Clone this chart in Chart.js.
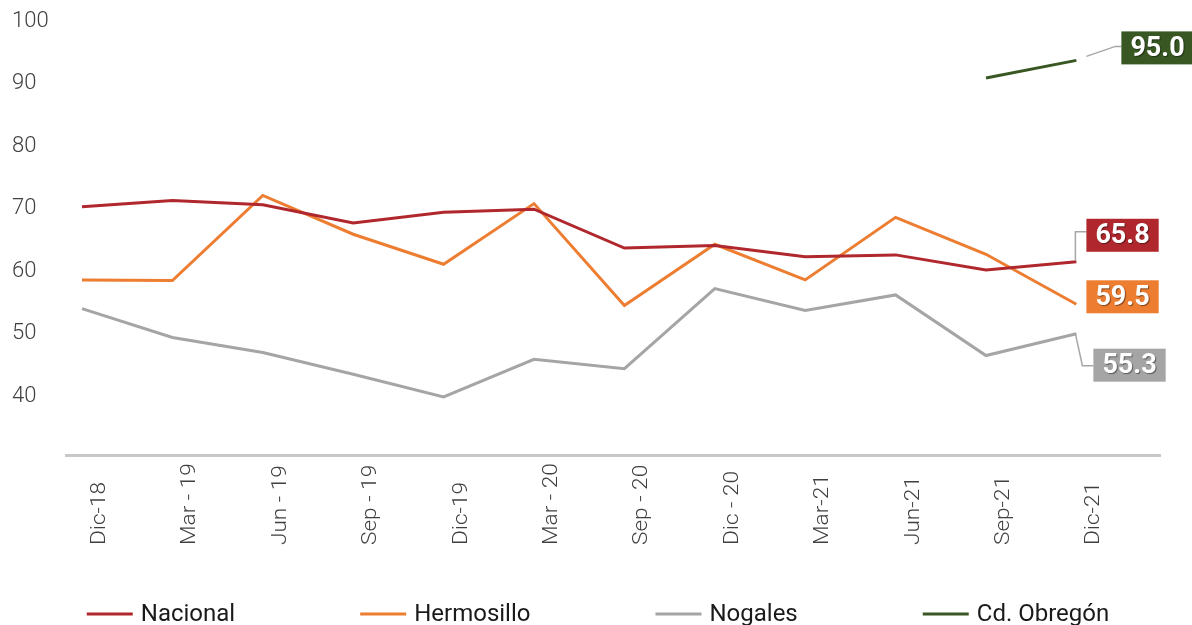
<!DOCTYPE html>
<html>
<head>
<meta charset="utf-8">
<script src="https://cdn.jsdelivr.net/npm/chart.js@4.4.1/dist/chart.umd.min.js"></script>
<style>
    html, body { margin: 0; padding: 0; background: #ffffff; }
    #wrap { width: 1192px; height: 625px; position: relative; }
</style>
</head>
<body>
<div id="wrap"><canvas id="chart"></canvas></div>
<script>
const categories = ['Dic-18', 'Mar - 19', 'Jun - 19', 'Sep - 19', 'Dic-19', 'Mar - 20',
    'Sep - 20', 'Dic - 20', 'Mar-21', 'Jun-21', 'Sep-21', 'Dic-21'];
const nacional = [70.3, 71.3, 70.6, 67.7, 69.4, 69.9, 63.7, 64.1, 62.3, 62.6, 60.2, 61.5];
const hermosillo = [58.6, 58.5, 72.1, 65.9, 61.1, 70.8, 54.5, 64.3, 58.6, 68.6, 62.7, 54.7];
const nogales = [54.0, 49.4, 47.0, 43.5, 39.9, 45.9, 44.4, 57.2, 53.7, 56.2, 46.5, 50.0];
const obregon = [null, null, null, null, null, null, null, null, null, null, 90.9, 93.7];
const seriesNames = ['Nacional', 'Hermosillo', 'Nogales', 'Cd. Obregón'];
const lastLabels = ['65.8', '59.5', '55.3', '95.0'];
const yTicks = [40, 50, 60, 70, 80, 90, 100];

const colors = ['#b0282d', '#ed7d31', '#a5a5a5', '#385723'];
const leaderColor = '#a6a6a6';

function toPoints(values) {
    return values.map((v, i) => ({x: i, y: v}));
}

// label boxes: offset of box from the last point, and the leader line path
const labelLayout = [
    {dx: 10, dy: -43, leader: [[-1, -1], [-1, -30], [10, -30]]},
    {dx: 10, dy: -24, leader: null},
    {dx: 17, dy: 15, leader: [[-1, 0], [6, 32], [17, 32]]},
    {dx: 45, dy: -29, leader: [[10, -4], [39, -14], [45, -14]]},
];

const xLabelsPlugin = {
    id: 'xLabels',
    afterDraw(chart) {
        const ctx = chart.ctx;
        const xs = chart.scales.x;
        ctx.save();
        ctx.fillStyle = '#404040';
        ctx.font = '300 20px Roboto';
        ctx.textAlign = 'left';
        ctx.textBaseline = 'middle';
        categories.forEach((c, i) => {
            const x = xs.getPixelForValue(i) + 18;
            ctx.save();
            ctx.translate(x, 545);
            ctx.rotate(-Math.PI / 2);
            ctx.scale(1.13, 1);
            ctx.fillText(c, 0, 0);
            ctx.restore();
        });
        ctx.restore();
    }
};

const endLabelsPlugin = {
    id: 'endLabels',
    afterDatasetsDraw(chart) {
        const ctx = chart.ctx;
        ctx.save();
        ctx.font = 'bold 27px Roboto';
        chart.data.datasets.forEach((ds, i) => {
            const meta = chart.getDatasetMeta(i);
            const pt = meta.data[meta.data.length - 1];
            const lay = labelLayout[i];
            if (lay.leader) {
                ctx.strokeStyle = leaderColor;
                ctx.lineWidth = 1.5;
                ctx.beginPath();
                lay.leader.forEach((p, k) => {
                    if (k === 0) ctx.moveTo(pt.x + p[0], pt.y + p[1]);
                    else ctx.lineTo(pt.x + p[0], pt.y + p[1]);
                });
                ctx.stroke();
            }
            const text = lastLabels[i];
            const w = ctx.measureText(text).width + 18;
            const h = 33;
            const bx = pt.x + lay.dx;
            const by = pt.y + lay.dy;
            ctx.fillStyle = colors[i];
            ctx.fillRect(bx, by, w, h);
            ctx.save();
            ctx.shadowColor = 'rgba(0,0,0,0.45)';
            ctx.shadowOffsetX = 1;
            ctx.shadowOffsetY = 1;
            ctx.shadowBlur = 1;
            ctx.fillStyle = '#ffffff';
            ctx.textAlign = 'center';
            ctx.textBaseline = 'middle';
            ctx.fillText(text, bx + w / 2, by + h / 2 + 1);
            ctx.restore();
        });
        ctx.restore();
    }
};

const legendPlugin = {
    id: 'bottomLegend',
    afterDraw(chart) {
        const ctx = chart.ctx;
        const lineLen = 46, gap = 8, spacing = 125;
        ctx.save();
        ctx.font = '24px Roboto';
        const widths = seriesNames.map(n => lineLen + gap + ctx.measureText(n).width);
        const total = widths.reduce((a, b) => a + b, 0) + spacing * (widths.length - 1);
        let x = chart.width / 2 - total / 2 + 2;
        seriesNames.forEach((n, i) => {
            ctx.strokeStyle = colors[i];
            ctx.lineWidth = 3;
            ctx.beginPath();
            ctx.moveTo(x, 614);
            ctx.lineTo(x + lineLen, 614);
            ctx.stroke();
            ctx.fillStyle = '#1a1a1a';
            ctx.textBaseline = 'alphabetic';
            ctx.fillText(n, x + lineLen + gap, 621);
            x += widths[i] + spacing;
        });
        ctx.restore();
    }
};

const allSeries = [nacional, hermosillo, nogales, obregon];

new Chart(document.getElementById('chart'), {
    type: 'line',
    data: {
        datasets: allSeries.map((s, i) => ({
            label: seriesNames[i],
            data: toPoints(s),
            borderColor: colors[i],
            backgroundColor: colors[i],
            borderWidth: 3,
            pointRadius: 0,
            tension: 0,
            fill: false,
        }))
    },
    options: {
        responsive: true,
        maintainAspectRatio: false,
        animation: false,
        layout: {padding: {top: 21, left: 12, right: 32, bottom: 0}},
        plugins: {
            legend: {display: false},
            tooltip: {enabled: false},
        },
        scales: {
            x: {
                type: 'linear',
                min: -0.177,
                max: 11.925,
                grid: {display: false},
                border: {display: true, color: '#c8c8c8', width: 3},
                ticks: {display: false},
                afterFit(scale) { scale.height = 170; },
            },
            y: {
                min: 30.6,
                max: 100,
                grid: {display: false},
                border: {display: false},
                afterBuildTicks(scale) { scale.ticks = yTicks.map(v => ({value: v})); },
                ticks: {
                    crossAlign: 'far',
                    color: '#404040',
                    font: {family: 'Roboto', size: 22, weight: '300'},
                },
                afterFit(scale) { scale.width = 54; },
            }
        }
    },
    plugins: [xLabelsPlugin, endLabelsPlugin, legendPlugin]
});
</script>
</body>
</html>
